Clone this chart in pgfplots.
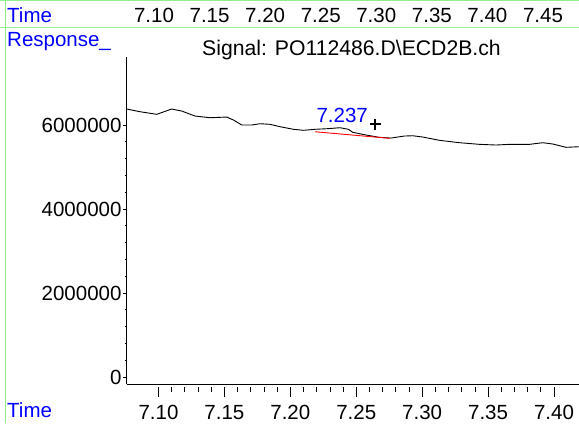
\documentclass[border=0pt]{standalone}
\usepackage{fontspec}
\setmainfont{Liberation Sans}
\usepackage{pgfplots}
\pgfplotsset{compat=1.18}
\definecolor{gline}{RGB}{144,238,144}
\definecolor{pblue}{RGB}{0,0,255}
\begin{document}
\fontsize{20.5bp}{24bp}\selectfont
\begin{tikzpicture}[x=1bp,y=1bp]
\path[use as bounding box] (0,0) rectangle (579,423);
% header frame lines
\draw[gline, line width=1bp] (0,422.5) -- (579,422.5);
\draw[gline, line width=1bp] (0,395) -- (579,395);
\draw[gline, line width=1bp] (5,0) -- (5,423);
% header texts
\node[anchor=base west, inner sep=0, text=pblue] at (7,400.5) {Time};
\foreach \t [count=\i from 0] in {7.10,7.15,7.20,7.25,7.30,7.35,7.40,7.45}
  \node[anchor=base, inner sep=0] at (154+55.57*\i,400.5) {\t};
\node[anchor=base west, inner sep=0, text=pblue] at (7,377) {Response\_};
\node[anchor=base, inner sep=0, font=\fontsize{21.2bp}{24bp}\selectfont] at (351.5,368) {Signal: PO112486.D\textbackslash ECD2B.ch};
\node[anchor=base west, inner sep=0, text=pblue] at (7,5.5) {Time};
\pgfplotsset{commonax/.style={
  at={(126.7bp,39bp)}, anchor=south west,
  scale only axis, width=452.3bp, height=327bp,
  xmin=7.0759, xmax=7.4190,
  ymin=-166667, ymax=7620000,
  tick align=outside,
  scaled y ticks=false, scaled x ticks=false,
  /pgf/number format/assume math mode=true,
  clip=false,
}}
% x axis with longer ticks
\begin{axis}[commonax,
  axis x line*=bottom, hide y axis,
  axis line style={-, line width=0.8bp, black},
  xtick={7.10,7.15,7.20,7.25,7.30,7.35,7.40},
  minor x tick num=4,
  major tick length=10bp, minor tick length=5bp,
  x tick style={black, line width=0.7bp, yshift=-3bp},
  xticklabel style={/pgf/number format/fixed, /pgf/number format/precision=2, /pgf/number format/fixed zerofill, font=\fontsize{20.5bp}{24bp}\selectfont, anchor=base, yshift=-25bp},
]
\end{axis}
\begin{axis}[commonax,
  axis y line*=left, hide x axis,
  axis line style={-, line width=0.8bp, black},
  ytick={0,2000000,4000000,6000000},
  minor y tick num=4,
  major tick length=4bp, minor tick length=2bp,
  y tick style={black, line width=0.7bp},
  yticklabel style={/pgf/number format/fixed, /pgf/number format/1000 sep={}, font=\fontsize{20.5bp}{24bp}\selectfont, inner sep=1bp},
]
\addplot[black, line width=0.9bp] coordinates {
(7.0759,6381000) (7.0860,6317000) (7.0987,6255000) (7.1100,6381000) (7.1176,6333000)
(7.1277,6214000) (7.1391,6174000) (7.1518,6190000) (7.1569,6119000) (7.1632,6000000)
(7.1707,6000000) (7.1770,6031000) (7.1846,6017000) (7.1922,5960000) (7.2024,5898000)
(7.2100,5874000) (7.2188,5898000) (7.2277,5912000) (7.2377,5936000) (7.2441,5898000)
(7.2474,5826000) (7.2575,5762000) (7.2676,5707000) (7.2764,5690000) (7.2866,5738000)
(7.2929,5745000) (7.3005,5714000) (7.3131,5636000) (7.3283,5579000) (7.3435,5540000)
(7.3561,5524000) (7.3663,5540000) (7.3814,5540000) (7.3915,5579000) (7.3991,5548000)
(7.4092,5469000) (7.4188,5483000)
};
\addplot[red, line width=0.9bp] coordinates {(7.2188,5840000) (7.2755,5683000)};
\addplot[black, only marks, mark=+, mark size=5.5bp, mark options={line width=2bp}] coordinates {(7.2646,6017000)};
\node[anchor=base east, inner sep=0, text=pblue] at (axis cs:7.2590,6071000) {7.237};
\end{axis}
\end{tikzpicture}
\end{document}
